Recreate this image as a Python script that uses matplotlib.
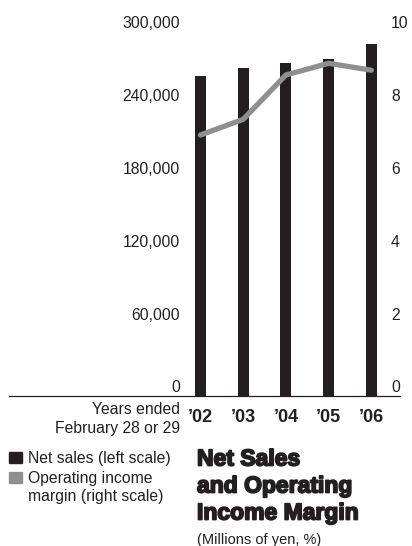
import matplotlib.pyplot as plt
import matplotlib.transforms as mtransforms
import matplotlib.patheffects as pe
import numpy as np

years = ["\u201902", "\u201903", "\u201904", "\u201905", "\u201906"]
net_sales = [263700, 270300, 274500, 277700, 290100]
op_margin = [7.17, 7.60, 8.82, 9.14, 8.95]
left_ticks = [0, 60000, 120000, 180000, 240000, 300000]
right_ticks = [0, 2, 4, 6, 8, 10]

BAR = '#231f20'
LINE = '#8e8f91'
TXT = '#231f20'

plt.rcParams['font.family'] = 'Liberation Sans'

W, H = 412, 546
fig = plt.figure(figsize=(W / 100, H / 100), dpi=100)

ax = fig.add_axes([9 / W, (H - 396) / H, 391 / W, 364 / H])
ax2 = ax.twinx()
x = np.arange(len(years))

ax.bar(x, net_sales, width=0.26, color=BAR, zorder=2)
ax.set_ylim(0, 300000)
ax.set_xlim(-4.48, 4.67)
ax2.set_ylim(0, 10)
ax2.plot(x, op_margin, color=LINE, lw=3.8, solid_capstyle='round', zorder=3)

for a in (ax, ax2):
    for s in ('top', 'left', 'right'):
        a.spines[s].set_visible(False)
    a.set_yticks([])
ax2.spines['bottom'].set_visible(False)
ax.spines['bottom'].set_linewidth(0.9)
ax.spines['bottom'].set_color(TXT)

ax.set_xticks(x)
ax.set_xticklabels(years, fontsize=13, fontweight='bold', color=TXT)
ax.tick_params(axis='x', length=0, pad=9.5)

# tick labels drawn inside plot area, a bit above their values
up = mtransforms.offset_copy(ax.transData, fig=fig, x=0, y=8, units='dots')
tr = mtransforms.blended_transform_factory(fig.transFigure, up)
for t in left_ticks:
    ax.text(180 / W, t, f'{t:,}', transform=tr, ha='right', va='center',
            fontsize=11.3, color=TXT)
up2 = mtransforms.offset_copy(ax2.transData, fig=fig, x=0, y=8, units='dots')
tr2 = mtransforms.blended_transform_factory(fig.transFigure, up2)
for t in right_ticks:
    ax2.text(391 / W, t, str(t), transform=tr2, ha='left', va='center',
             fontsize=11.3, color=TXT)

def fy(py):
    return 1 - py / H

fig.text(180 / W, fy(410), 'Years ended', ha='right', va='center', fontsize=11.3, color=TXT)
fig.text(180 / W, fy(429), 'February 28 or 29', ha='right', va='center', fontsize=11.3, color=TXT)

# legend
for col, yc in ((BAR, 457.5), (LINE, 477.5)):
    fig.patches.append(plt.Rectangle((9 / W, fy(yc + 5.5)), 13 / W, 11 / H,
                                     transform=fig.transFigure, color=col))
fig.text(28 / W, fy(458), 'Net sales (left scale)', ha='left', va='center', fontsize=11.3, color=TXT)
fig.text(28 / W, fy(479), 'Operating income', ha='left', va='center', fontsize=11.3, color=TXT)
fig.text(28 / W, fy(497), 'margin (right scale)', ha='left', va='center', fontsize=11.3, color=TXT)

# title
heavy = [pe.withStroke(linewidth=1.3, foreground=TXT)]
for line, yc in (('Net Sales', 459), ('and Operating', 486), ('Income Margin', 513)):
    fig.text(197 / W, fy(yc), line, ha='left', va='center', fontsize=16.5,
             fontweight='bold', color=TXT, path_effects=heavy)
fig.text(197 / W, fy(540), '(Millions of yen, %)', ha='left', va='center', fontsize=10.5, color=TXT)

fig.savefig('out.png', dpi=100)
